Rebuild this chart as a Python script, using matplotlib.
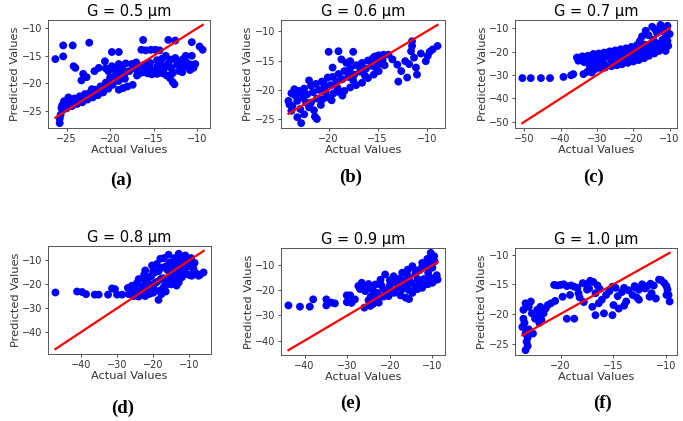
import matplotlib
matplotlib.use("Agg")
import matplotlib.pyplot as plt

titles = ["G = 0.5 µm", "G = 0.6 µm", "G = 0.7 µm", "G = 0.8 µm", "G = 0.9 µm", "G = 1.0 µm"]
panel_labels = ["(a)", "(b)", "(c)", "(d)", "(e)", "(f)"]

# (actual, predicted) pairs
pts_05 = [
    (-26.3, -15.6), (-25.4, -13.1), (-24.3, -13.1), (-22.4, -12.6), (-25.4, -15.1), (-24.2, -16.9),
    (-24.0, -17.2), (-23.3, -19.5), (-23.1, -18.3), (-22.7, -18.9), (-19.8, -14.3), (-19.0, -14.3),
    (-16.2, -12.1), (-13.3, -12.1), (-12.5, -12.2), (-10.6, -12.5), (-9.7, -13.3), (-9.35, -13.9),
    (-11.3, -15.0), (-10.6, -15.0),
    (-25.8, -27.3), (-25.8, -26.5), (-25.7, -25.8), (-25.5, -25.0), (-25.5, -24.0), (-25.3, -23.3),
    (-25.0, -24.6), (-24.7, -23.1), (-24.4, -24.2), (-24.1, -22.8), (-23.8, -23.8), (-23.5, -22.4),
    (-23.2, -23.5), (-22.9, -22.0), (-22.6, -23.0), (-22.3, -21.7), (-22.0, -22.6), (-21.7, -21.2),
    (-21.4, -22.2), (-21.1, -20.6), (-20.8, -21.7), (-20.5, -19.9), (-20.2, -21.0), (-20.0, -19.0),
    (-19.7, -20.3), (-19.4, -18.6), (-19.0, -19.6), (-18.6, -18.4), (-18.3, -19.2), (-24.8, -22.6),
    (-23.9, -22.9), (-22.1, -21.1), (-20.6, -20.7),
    (-25.6, -24.5), (-25.2, -24.0), (-24.9, -23.6), (-24.5, -23.5), (-24.2, -23.4), (-23.7, -23.0),
    (-23.4, -22.9), (-23.0, -22.6), (-22.7, -22.3), (-22.4, -22.2), (-21.9, -21.8), (-21.6, -21.6),
    (-21.2, -21.2), (-20.9, -20.9), (-20.4, -20.4), (-20.0, -20.0), (-19.6, -19.6), (-19.2, -19.2),
    (-18.8, -18.9), (-18.4, -18.5),
    (-21.3, -17.2), (-20.6, -16.0), (-20.2, -17.8), (-19.8, -16.9), (-19.4, -17.6), (-19.0, -16.5),
    (-18.6, -17.3), (-18.2, -16.4), (-17.8, -17.8), (-17.5, -16.5), (-17.0, -17.5), (-16.6, -18.2),
    (-16.3, -16.8), (-15.9, -17.7), (-15.5, -17.2), (-15.0, -17.9), (-14.6, -17.0), (-14.2, -18.1),
    (-13.8, -17.4), (-13.5, -18.6), (-13.0, -17.2), (-12.7, -18.0), (-12.3, -16.6), (-11.9, -17.3),
    (-11.5, -16.8), (-11.1, -17.0), (-10.7, -16.6), (-10.4, -17.2), (-10.2, -16.5), (-16.9, -18.6),
    (-15.2, -18.4), (-12.0, -17.8), (-11.2, -16.2), (-10.8, -17.6),
    (-17.2, -17.0), (-16.0, -16.6), (-15.7, -18.2), (-14.0, -16.8), (-13.3, -16.4), (-12.9, -18.3),
    (-11.7, -18.0), (-18.9, -17.8), (-20.5, -17.3), (-21.8, -17.8), (-17.0, -16.2), (-15.4, -16.3),
    (-14.4, -16.2), (-16.2, -18.0), (-14.6, -18.3), (-13.9, -18.2),
    (-14.6, -15.8), (-14.0, -15.5), (-13.6, -15.0), (-13.0, -15.7), (-12.5, -15.4), (-12.1, -16.0),
    (-11.6, -15.6),
    (-16.4, -13.9), (-15.9, -14.0), (-15.3, -13.9), (-14.8, -13.9), (-14.3, -14.0),
    (-19.0, -21.2), (-18.5, -20.9), (-18.0, -20.6), (-17.4, -20.3), (-13.1, -19.1), (-12.8, -19.8),
    (-12.6, -20.2),
]

pts_06 = [
    (-22.8, -25.7), (-21.2, -25.0), (-21.4, -24.6), (-23.2, -24.7), (-23.8, -23.6), (-24.0, -22.5),
    (-24.1, -21.9), (-22.5, -24.2), (-22.9, -23.3),
    (-23.5, -19.9), (-23.0, -20.2), (-22.5, -19.8), (-21.8, -19.3), (-21.3, -19.0), (-20.7, -18.6),
    (-20.1, -17.9), (-19.6, -17.8), (-19.0, -17.3), (-18.4, -16.8), (-17.8, -16.3), (-17.2, -15.8),
    (-16.6, -15.4), (-16.0, -15.0), (-15.5, -14.6), (-14.9, -14.1), (-14.4, -14.0), (-13.9, -14.0),
    (-23.2, -21.9), (-22.6, -21.4), (-21.8, -22.2), (-21.2, -21.5), (-20.6, -21.6), (-20.1, -21.3),
    (-19.5, -20.6), (-18.9, -20.4), (-18.4, -20.2), (-17.8, -19.6), (-17.2, -19.2), (-16.6, -18.8),
    (-16.0, -18.0), (-15.4, -17.4), (-14.9, -16.8), (-14.3, -15.8), (-13.5, -14.8),
    (-23.4, -21.0), (-22.8, -20.6), (-22.2, -20.8), (-21.6, -20.4), (-21.0, -20.0), (-20.4, -19.6),
    (-19.8, -19.2), (-19.2, -18.6), (-18.6, -18.2), (-18.0, -17.8), (-17.4, -17.4), (-16.8, -16.9),
    (-16.2, -16.4), (-15.6, -15.9), (-15.0, -15.3), (-14.5, -14.9),
    (-23.7, -22.8), (-22.0, -23.0), (-21.5, -23.5), (-20.8, -22.6), (-20.3, -20.4), (-19.7, -21.8),
    (-19.1, -19.7), (-18.6, -21.0), (-17.5, -18.4), (-16.3, -17.6), (-15.2, -16.2), (-14.7, -15.5),
    (-23.8, -20.6), (-22.3, -22.2), (-20.5, -18.9), (-18.0, -16.8), (-16.8, -15.8), (-15.3, -14.3),
    (-20.0, -13.5), (-19.0, -13.4), (-17.5, -13.5), (-18.7, -14.8), (-17.8, -15.1), (-22.0, -18.4),
    (-19.6, -16.2), (-18.2, -15.4),
    (-12.9, -18.6), (-13.0, -15.7), (-12.0, -17.9), (-12.2, -15.1), (-11.6, -13.4), (-11.5, -12.5),
    (-11.3, -14.5), (-11.1, -16.2), (-10.1, -15.1), (-9.9, -14.2), (-9.4, -13.1), (-8.9, -12.5),
    (-11.5, -11.7), (-12.6, -16.8), (-11.8, -15.6), (-11.0, -17.4), (-10.6, -13.8), (-9.7, -13.5),
]

pts_07 = [
    (-50.5, -31.3), (-48.2, -31.3), (-45.4, -31.3), (-42.9, -31.3), (-39.2, -30.8), (-37.1, -30.1),
    (-36.5, -29.6), (-33.7, -29.6), (-32.6, -28.6), (-31.4, -28.9),
    (-35.5, -22.5), (-34.0, -22.0), (-32.5, -21.8), (-31.0, -21.0), (-29.5, -20.8), (-28.0, -20.4),
    (-26.5, -19.9), (-25.0, -19.5), (-23.5, -19.0), (-22.0, -18.6), (-20.5, -18.0), (-19.0, -17.2),
    (-18.2, -15.5), (-17.6, -13.5), (-16.6, -11.1), (-14.8, -9.4), (-12.5, -8.6), (-10.6, -9.0),
    (-35.1, -23.9), (-33.5, -24.5), (-32.0, -26.0), (-30.5, -27.5), (-29.0, -27.0), (-27.7, -26.8),
    (-26.0, -26.2), (-24.5, -25.8), (-23.1, -25.4), (-21.5, -24.8), (-20.0, -24.2), (-18.5, -23.6),
    (-17.0, -22.8), (-15.7, -21.8), (-14.2, -20.8), (-12.9, -19.7), (-11.1, -19.7), (-10.6, -15.4),
    (-10.0, -12.5), (-10.4, -17.5), (-11.8, -18.4), (-13.5, -16.5), (-14.5, -15.0), (-15.8, -13.0),
    (-17.0, -17.0), (-16.0, -18.5), (-32.0, -23.0), (-30.0, -22.5), (-28.5, -23.5), (-27.0, -22.0),
    (-25.5, -23.0), (-24.0, -21.5), (-22.5, -22.5), (-21.0, -21.0), (-19.5, -21.8), (-18.0, -20.0),
    (-16.5, -20.5), (-15.0, -19.0), (-13.8, -18.5), (-30.5, -25.0), (-28.0, -25.2), (-26.0, -24.0),
    (-23.5, -23.8), (-21.0, -23.0), (-19.0, -22.8), (-17.5, -21.8), (-12.0, -11.0), (-11.0, -13.0),
    (-34.5, -23.0), (-33.0, -22.8), (-31.5, -24.0), (-30.0, -24.5), (-29.0, -21.8), (-27.5, -21.2),
    (-26.5, -22.5), (-25.0, -21.0), (-24.0, -23.0), (-22.5, -20.0), (-21.5, -21.8), (-20.0, -19.8),
    (-19.5, -23.5), (-18.5, -18.8), (-17.5, -19.5), (-16.8, -21.5), (-15.5, -17.0), (-14.5, -18.0),
    (-13.0, -17.5), (-12.0, -15.0), (-11.5, -16.5), (-10.8, -11.0), (-13.5, -12.0), (-14.0, -10.5),
]

pts_08 = [
    (-47.1, -23.4), (-41.1, -23.0), (-39.7, -23.2), (-38.6, -24.1), (-36.2, -24.3), (-35.1, -24.3),
    (-32.5, -24.3), (-31.4, -21.7), (-30.6, -22.0), (-30.0, -24.3), (-28.6, -24.3), (-26.8, -24.1),
    (-25.4, -24.9), (-24.0, -25.1), (-18.5, -26.5), (-17.7, -24.1),
    (-25.9, -20.6), (-24.0, -17.8), (-22.2, -14.2), (-20.3, -12.1), (-18.0, -9.3), (-15.7, -7.6),
    (-12.9, -7.2), (-11.1, -7.9),
    (-22.2, -24.9), (-19.4, -22.7), (-16.6, -20.6), (-12.9, -19.2), (-9.3, -16.4), (-7.4, -16.4),
    (-6.0, -15.0), (-9.7, -10.7), (-8.8, -13.5),
    (-27.0, -21.5), (-25.0, -22.0), (-23.0, -21.0), (-21.0, -20.0), (-19.0, -19.0), (-17.0, -17.5),
    (-15.0, -16.0), (-13.0, -14.5), (-11.0, -13.0), (-24.5, -19.5), (-22.5, -18.0), (-20.5, -16.5),
    (-18.5, -14.5), (-16.5, -12.5), (-14.5, -10.5), (-12.5, -9.5), (-10.5, -10.0), (-23.5, -23.5),
    (-21.5, -22.0), (-20.0, -21.0), (-18.0, -18.0), (-16.0, -19.0), (-14.0, -18.0), (-12.0, -17.0),
    (-10.0, -16.0), (-19.5, -15.0), (-17.5, -13.0), (-15.5, -11.0), (-13.5, -12.0), (-11.5, -11.5),
    (-14.0, -15.0), (-12.0, -14.0), (-8.5, -11.0), (-17.0, -21.0), (-15.0, -20.0), (-21.0, -24.0),
    (-26.0, -23.0), (-24.5, -23.5), (-23.0, -22.5), (-22.0, -19.5), (-21.0, -17.0), (-20.0, -14.5),
    (-19.0, -11.5), (-17.0, -9.0), (-16.0, -14.0), (-15.0, -13.0), (-14.0, -9.0), (-13.0, -16.5),
    (-12.0, -12.0), (-11.0, -15.5), (-10.0, -12.5), (-9.5, -9.0), (-8.0, -15.5), (-7.0, -16.0),
    (-18.0, -22.5), (-20.0, -23.5), (-22.5, -16.0), (-19.5, -19.5), (-17.5, -17.5), (-15.5, -18.0),
    (-13.5, -20.5), (-16.5, -23.0),
]

pts_09 = [
    (-43.8, -26.0), (-41.1, -26.5), (-38.8, -26.5), (-38.0, -23.6), (-34.9, -23.6), (-34.9, -26.0),
    (-33.7, -24.9), (-32.9, -25.2), (-30.1, -24.7), (-30.1, -22.0), (-29.3, -22.0), (-28.2, -23.6),
    (-27.4, -18.3), (-26.6, -18.3), (-25.8, -20.3), (-26.0, -26.9), (-24.6, -26.2),
    (-26.6, -17.0), (-25.0, -17.5), (-23.4, -17.7), (-22.2, -15.8), (-21.1, -13.7), (-19.1, -14.4),
    (-17.1, -13.0), (-15.8, -11.8), (-14.7, -10.4), (-12.4, -9.1), (-11.2, -7.5), (-10.4, -5.1),
    (-9.6, -6.4),
    (-22.6, -24.9), (-20.3, -22.3), (-17.1, -19.6), (-16.3, -22.9), (-14.7, -21.0), (-12.4, -19.0),
    (-10.0, -17.0), (-8.8, -15.7),
    (-24.5, -22.5), (-23.0, -21.0), (-21.5, -19.5), (-20.0, -18.0), (-18.5, -17.0), (-17.0, -16.0),
    (-15.5, -15.0), (-14.0, -13.5), (-13.0, -12.0), (-11.5, -10.5), (-10.5, -9.0), (-9.5, -8.5),
    (-25.0, -24.0), (-23.5, -23.0), (-21.5, -22.5), (-19.5, -20.5), (-18.0, -19.0), (-16.0, -18.5),
    (-15.5, -20.0), (-13.5, -19.5), (-11.5, -17.5), (-10.5, -15.0), (-10.0, -11.0), (-11.0, -13.0),
    (-13.5, -15.5), (-16.5, -17.5), (-19.0, -16.0), (-22.0, -18.0),
    (-24.0, -20.0), (-23.0, -24.0), (-21.0, -20.5), (-20.0, -16.0), (-19.0, -21.0), (-18.0, -15.5),
    (-17.5, -22.0), (-16.0, -13.5), (-15.5, -23.5), (-14.0, -18.5), (-13.0, -17.0), (-12.0, -15.5),
    (-11.0, -17.5), (-9.5, -16.0), (-9.0, -14.0), (-10.0, -7.5), (-12.5, -11.0), (-14.0, -12.0),
    (-15.0, -17.0), (-27.0, -19.5), (-25.5, -18.5), (-24.0, -25.5), (-29.0, -25.0),
]

pts_10 = [
    (-23.3, -18.2), (-23.5, -19.3), (-23.5, -20.8), (-23.6, -22.2), (-23.3, -23.3), (-23.2, -24.7),
    (-23.3, -26.1), (-23.0, -18.8), (-23.4, -21.5), (-23.1, -25.4),
    (-22.7, -19.9), (-22.4, -20.8), (-22.2, -19.3), (-21.9, -18.8), (-21.6, -19.9), (-21.4, -19.1),
    (-20.9, -18.2), (-22.0, -21.5),
    (-20.6, -15.1), (-20.0, -15.1), (-19.4, -15.3), (-18.7, -15.4), (-17.9, -14.8), (-17.2, -14.4),
    (-17.3, -15.7), (-16.5, -15.2),
    (-19.8, -17.1), (-19.1, -16.8), (-18.3, -16.5), (-17.5, -15.9), (-16.7, -16.5), (-16.1, -17.6),
    (-19.4, -20.8), (-18.7, -20.8), (-16.7, -20.2), (-15.9, -19.9), (-15.1, -20.2), (-17.0, -18.8),
    (-16.4, -18.2),
    (-14.5, -19.1), (-13.8, -17.9), (-13.2, -16.8), (-12.6, -15.9), (-12.0, -15.7), (-10.7, -14.2),
    (-10.2, -14.8), (-9.9, -15.9), (-9.7, -17.9), (-12.6, -17.6), (-11.6, -17.1), (-11.0, -17.4),
    (-15.1, -15.4), (-15.4, -16.2), (-14.0, -15.6), (-13.0, -15.5), (-11.2, -15.2), (-10.0, -16.8),
    (-11.5, -14.9), (-14.6, -17.0),
    (-20.3, -15.2), (-19.7, -15.0), (-19.0, -15.2), (-18.4, -15.6), (-17.6, -15.0), (-16.9, -14.6),
    (-16.3, -15.8), (-15.7, -16.8), (-14.8, -15.6), (-14.2, -16.3), (-13.6, -16.0), (-13.0, -15.3),
    (-12.3, -15.0), (-11.8, -15.3), (-10.5, -14.3), (-10.0, -15.3), (-9.8, -16.8), (-11.4, -16.5),
    (-12.8, -17.2), (-14.0, -18.6), (-15.0, -18.5), (-17.8, -18.0), (-18.2, -17.2), (-20.5, -17.8),
    (-21.2, -18.5), (-22.8, -17.9), (-22.0, -20.2), (-21.8, -21.0), (-23.0, -22.6), (-22.6, -23.3),
    (-23.1, -24.0),
]

panels = [pts_05, pts_06, pts_07, pts_08, pts_09, pts_10]

xticks = [[-25, -20, -15, -10], [-20, -15, -10], [-50, -40, -30, -20, -10],
          [-40, -30, -20, -10], [-40, -30, -20, -10], [-20, -15, -10]]
yticks = [[-25, -20, -15, -10], [-25, -20, -15, -10], [-50, -40, -30, -20, -10],
          [-40, -30, -20, -10], [-40, -30, -20, -10], [-25, -20, -15, -10]]

W, H = 683, 421
boxes = [(48, 20, 210, 128), (281, 20, 445, 128), (515, 20, 677, 128),
         (48, 246, 211, 354), (281, 248, 445, 355), (515, 248, 677, 355)]
label_pos = [(121, 180), (351, 177), (593, 177), (123, 408), (351, 403), (602, 403)]

fig = plt.figure(figsize=(W / 100, H / 100), dpi=100)
fig.patch.set_facecolor("white")

for i, pts in enumerate(panels):
    x0, y0, x1, y1 = boxes[i]
    ax = fig.add_axes([x0 / W, 1 - y1 / H, (x1 - x0) / W, (y1 - y0) / H])
    xs = [p[0] for p in pts]
    ys = [p[1] for p in pts]
    ax.scatter(xs, ys, s=32, color="#0000ff", edgecolors="none", zorder=2)
    lo, hi = min(xs), max(xs)
    ax.plot([lo, hi], [lo, hi], color="#ff0000", lw=1.6, zorder=3)
    ax.set_xticks(xticks[i])
    ax.set_yticks(yticks[i])
    ax.tick_params(labelsize=7, length=2.5, width=0.6, pad=1.5, colors="#333333")
    for sp in ax.spines.values():
        sp.set_linewidth(0.7)
        sp.set_color("#555555")
    ax.set_title(titles[i], fontsize=10.5, pad=3)
    ax.set_xlabel("Actual Values", fontsize=8.2, labelpad=1, color="#333333")
    ax.set_ylabel("Predicted Values", fontsize=8.2, labelpad=1, color="#333333")
    lx, ly = label_pos[i]
    fig.text(lx / W, 1 - ly / H, panel_labels[i], ha="center", va="center",
             fontsize=13.5, fontweight="bold", family="Liberation Serif")

fig.savefig("out.png", dpi=100)
